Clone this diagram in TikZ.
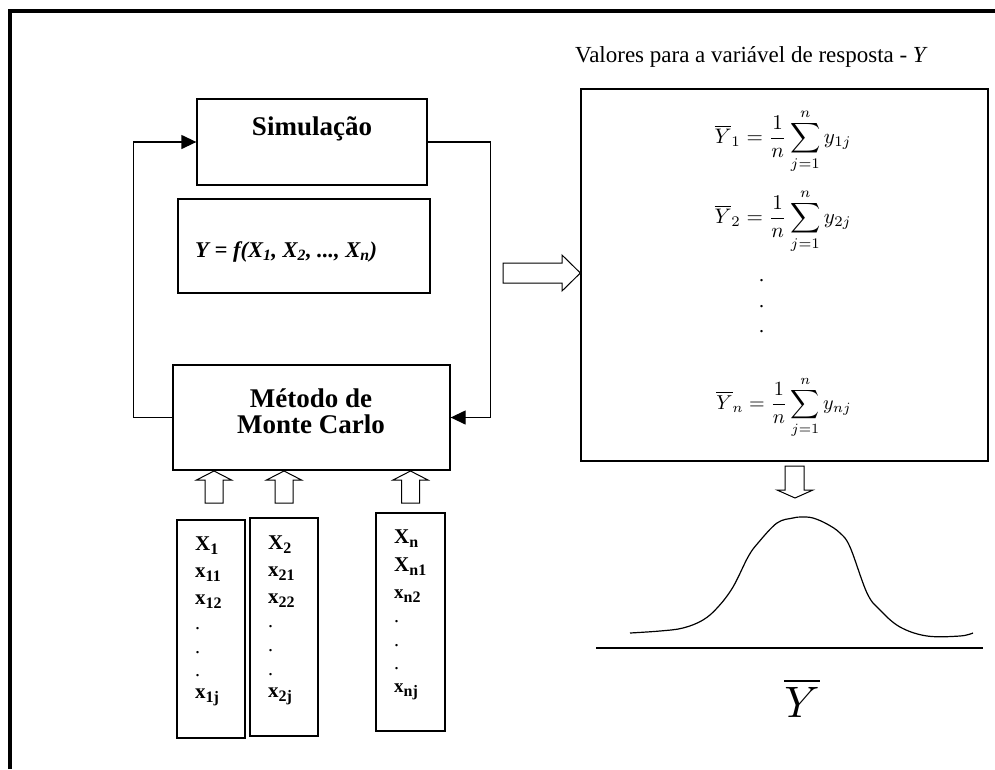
\documentclass[tikz,border=0pt]{standalone}
\usepackage{amsmath}
\usepackage{fontspec}
\setmainfont{Liberation Serif}
\usepackage{graphicx}
\usetikzlibrary{arrows.meta}
\newcommand{\vsb}[1]{\raisebox{-4pt}{\fontsize{16}{16}\selectfont #1}}
\begin{document}
\begin{tikzpicture}[x=1pt,y=-1pt,
  box/.style={draw, line width=1.3pt, inner sep=0pt},
  conn/.style={line width=1.3pt},
  tip/.style={-{Triangle[length=15pt,width=14pt]}},
  hollow/.style={draw, line width=1pt, fill=white},
  big/.style={font=\fontsize{27}{28}\selectfont\bfseries, inner sep=0pt},
  varx/.style={font=\fontsize{21}{22}\selectfont\bfseries, inner sep=0pt, anchor=base west},
  vdot/.style={font=\fontsize{20}{20}\selectfont, inner sep=0pt, anchor=base west},
  frm/.style={inner sep=0pt}]
\useasboundingbox (0,0) rectangle (995,769);
% outer frame (open right and bottom)
\draw[line width=3.5pt] (10,769) -- (10,11) -- (995,11);

% boxes
\node[box, minimum width=230pt, minimum height=86pt] (sim) at (312,142) {};
\node[box, minimum width=252pt, minimum height=94pt] (form) at (304,246) {};
\node[box, minimum width=277pt, minimum height=105pt] (mc) at (311.5,417.5) {};
\node[box, minimum width=68pt, minimum height=218pt] (v1) at (211,629) {};
\node[box, minimum width=68pt, minimum height=218pt] (v2) at (284,627) {};
\node[box, minimum width=69pt, minimum height=218pt] (v3) at (410.5,622) {};
\node[box, minimum width=407pt, minimum height=372pt] (res) at (784.5,275) {};

% texts
\node[big, anchor=base] (simtxt) at (312,135) {Simulação};
\node[font=\fontsize{22.5}{24}\selectfont\bfseries\itshape, inner sep=0pt, anchor=base west] (ftxt) at (195,257) {Y = f(X\textsubscript{1}, X\textsubscript{2}, ..., X\textsubscript{n})};
\node[big, anchor=base] (mct1) at (311,407) {Método de};
\node[big, anchor=base] (mct2) at (311,433) {Monte Carlo};
\node[font=\fontsize{23}{23}\selectfont, inner sep=0pt, anchor=base] (title) at (751.5,62) {Valores para a variável de resposta - \textit{Y}};

% variable columns
\node[varx] (a1) at (195,550) {X\vsb{1}};
\node[varx] (a2) at (195,577) {x\vsb{11}};
\node[varx] (a3) at (195,604) {x\vsb{12}};
\node[vdot] (a4) at (195,629) {.};
\node[vdot] (a5) at (195,653) {.};
\node[vdot] (a6) at (195,676) {.};
\node[varx] (a7) at (195,698) {x\vsb{1j}};

\node[varx] (b1) at (268,549) {X\vsb{2}};
\node[varx] (b2) at (268,576) {x\vsb{21}};
\node[varx] (b3) at (268,603) {x\vsb{22}};
\node[vdot] (b4) at (268,627) {.};
\node[vdot] (b5) at (268,651) {.};
\node[vdot] (b6) at (268,675) {.};
\node[varx] (b7) at (268,697) {x\vsb{2j}};

\node[varx] (c1) at (394,543) {X\vsb{n}};
\node[varx] (c2) at (394,571) {X\vsb{n1}};
\node[varx, font=\fontsize{19}{20}\selectfont\bfseries] (c3) at (394,598) {x\vsb{n2}};
\node[vdot] (c4) at (394,622) {.};
\node[vdot] (c5) at (394,646) {.};
\node[vdot] (c6) at (394,669) {.};
\node[varx, font=\fontsize{19}{20}\selectfont\bfseries] (c7) at (394,692) {x\vsb{nj}};

% formulas
\node[frm] (y1) at (783,141) {\resizebox{137pt}{!}{$\displaystyle \overline{Y}_1 = \frac{1}{n}\sum_{j=1}^{n} y_{1j}$}};
\node[frm] (y2) at (783,221) {\resizebox{137pt}{!}{$\displaystyle \overline{Y}_2 = \frac{1}{n}\sum_{j=1}^{n} y_{2j}$}};
\node[vdot] (d1) at (759,281) {.};
\node[vdot] (d2) at (759,307) {.};
\node[vdot] (d3) at (759,332) {.};
\node[frm] (yn) at (784,407) {\resizebox{135pt}{!}{$\displaystyle \overline{Y}_n = \frac{1}{n}\sum_{j=1}^{n} y_{nj}$}};

% feedback connectors
\draw[conn, tip] (mc.west) -- ++(-39,0) |- (sim.west);
\draw[conn, tip] (sim.east) -- ++(63,0) |- (mc.east);

% hollow up arrows into Monte Carlo box
\foreach \cx in {214,284,410.5}{
  \draw[hollow] (\cx-9,503) -- (\cx-9,480) -- (\cx-17.5,480) -- (\cx,471) -- (\cx+17.5,480) -- (\cx+9,480) -- (\cx+9,503) -- cycle;
}
% hollow right arrow into result box
\draw[hollow] (503,263) -- (562,263) -- (562,255) -- (res.west |- 0,273) -- (562,291) -- (562,283) -- (503,283) -- cycle;
% hollow down arrow under result box
\draw[hollow] (785,466) -- (785,490) -- (777,490) -- (795,498) -- (813,490) -- (804,490) -- (804,466) -- cycle;

% bell curve and axis
\draw[line width=1.2pt] plot[smooth, tension=0.6] coordinates {(630,633) (660,631) (683,628) (703,620) (718,607) (733,587) (748,557) (758,543) (777,523) (793,518) (802,517) (813,518) (827,524) (840,533) (850,547) (867,593) (880,610) (900,627) (927,636) (960,636) (973,633)};
\draw[line width=1.4pt] (596,648) -- (983,648);
\node[inner sep=0pt] (ybar) at (802,698) {\scalebox{4.4}{$\overline{Y}$}};
\end{tikzpicture}
\end{document}
